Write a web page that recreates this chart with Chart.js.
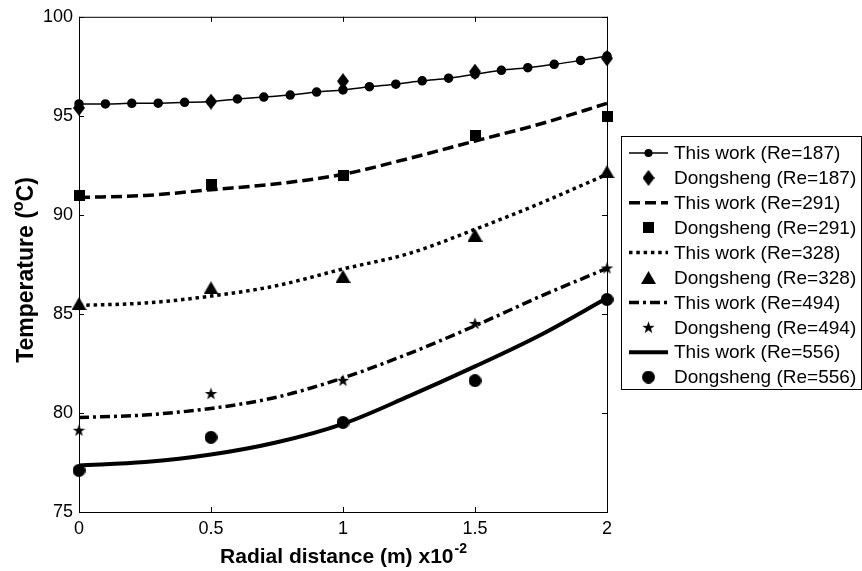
<!DOCTYPE html>
<html>
<head>
<meta charset="utf-8">
<script src="https://cdn.jsdelivr.net/npm/chart.js@4.4.1/dist/chart.umd.min.js"></script>
<style>
  html, body { margin: 0; padding: 0; background: #fff; }
  #wrap { width: 862px; height: 571px; }
</style>
</head>
<body>
<div id="wrap"><canvas id="tempChart"></canvas></div>
<script>
// radial positions (m x10^-2)
const xFine = [0, 0.1, 0.2, 0.3, 0.4, 0.5, 0.6, 0.7, 0.8, 0.9, 1.0, 1.1, 1.2, 1.3, 1.4, 1.5, 1.6, 1.7, 1.8, 1.9, 2.0];
const xModel = [0, 0.25, 0.5, 0.75, 1.0, 1.25, 1.5, 1.75, 2.0];
const xExp = [0, 0.5, 1.0, 1.5, 2.0];

// temperatures (°C)
const work187 = [95.6, 95.6, 95.63, 95.64, 95.68, 95.73, 95.85, 95.95, 96.05, 96.2, 96.31, 96.47, 96.6, 96.77, 96.9, 97.1, 97.3, 97.43, 97.6, 97.8, 98.02];
const dong187 = [95.4, 95.72, 96.75, 97.23, 97.9];
const work291 = [90.88, 90.98, 91.27, 91.57, 92.05, 92.85, 93.73, 94.6, 95.63];
const dong291 = [90.98, 91.52, 92.0, 94.02, 94.98];
const work328 = [85.43, 85.55, 85.9, 86.43, 87.27, 88.05, 89.27, 90.6, 92.05];
const dong328 = [85.52, 86.32, 86.9, 88.98, 92.18];
const work494 = [79.77, 79.9, 80.23, 80.8, 81.77, 83.0, 84.4, 85.9, 87.3];
const dong494 = [79.13, 80.98, 81.65, 84.52, 87.32];
const work556 = [77.35, 77.52, 77.9, 78.52, 79.45, 80.85, 82.35, 83.95, 85.8];
const dong556 = [77.1, 78.77, 79.52, 81.63, 85.73];

const yTicks = [75, 80, 85, 90, 95, 100];
const xTicks = [0, 0.5, 1, 1.5, 2];

const FONT = "'Liberation Sans', Arial, sans-serif";

function pts(xs, ys) {
  return xs.map((x, i) => ({ x: x, y: ys[i] }));
}

// filled black marker drawn on a small canvas
function marker(kind, w, h) {
  const c = document.createElement('canvas');
  c.width = w; c.height = h;
  const g = c.getContext('2d');
  g.fillStyle = '#000';
  g.beginPath();
  if (kind === 'diamond') {
    g.moveTo(w / 2, 0); g.lineTo(w, h / 2); g.lineTo(w / 2, h); g.lineTo(0, h / 2);
  } else if (kind === 'square') {
    g.rect(0, 0, w, h);
  } else if (kind === 'triangle') {
    g.moveTo(w / 2, 0); g.lineTo(w, h); g.lineTo(0, h);
  } else if (kind === 'star') {
    const cx = w / 2, cy = h / 2 + 0.5, ro = w / 2, ri = w / 2 * 0.4;
    for (let k = 0; k < 10; k++) {
      const r = k % 2 ? ri : ro;
      const a = -Math.PI / 2 + k * Math.PI / 5;
      g.lineTo(cx + r * Math.cos(a), cy + r * Math.sin(a));
    }
  } else {
    g.arc(w / 2, h / 2, w / 2, 0, Math.PI * 2);
  }
  g.closePath();
  g.fill();
  return c;
}

const mDiamond = marker('diamond', 12, 16);
const mSquare = marker('square', 11, 11);
const mTriangle = marker('triangle', 15, 13);
const mStar = marker('star', 13, 13);
const mCircle = marker('circle', 13, 13);

function modelLine(label, data, width, dash) {
  return {
    label: label, data: data, showLine: true,
    borderColor: '#000', borderWidth: width, borderDash: dash,
    pointRadius: 0, tension: 0.4, cubicInterpolationMode: 'monotone', clip: false
  };
}

function expPoints(label, data, style) {
  return {
    label: label, data: data, showLine: false,
    pointStyle: style, pointRadius: 6, borderColor: '#000', backgroundColor: '#000', clip: false
  };
}

const datasets = [
  {
    label: 'This work (Re=187)', data: pts(xFine, work187), showLine: true,
    borderColor: '#000', borderWidth: 1.5, borderDash: [],
    pointStyle: 'circle', pointRadius: 4, pointBackgroundColor: '#000', pointBorderColor: '#000',
    tension: 0.3, clip: false
  },
  expPoints('Dongsheng (Re=187)', pts(xExp, dong187), mDiamond),
  modelLine('This work (Re=291)', pts(xModel, work291), 3.5, [11, 5]),
  expPoints('Dongsheng (Re=291)', pts(xExp, dong291), mSquare),
  modelLine('This work (Re=328)', pts(xModel, work328), 3.5, [3.5, 3.8]),
  expPoints('Dongsheng (Re=328)', pts(xExp, dong328), mTriangle),
  modelLine('This work (Re=494)', pts(xModel, work494), 3.5, [10, 4, 3, 4]),
  expPoints('Dongsheng (Re=494)', pts(xExp, dong494), mStar),
  modelLine('This work (Re=556)', pts(xModel, work556), 4, []),
  expPoints('Dongsheng (Re=556)', pts(xExp, dong556), mCircle)
];

// box round the axes, inward ticks on every side, axis titles and legend
const decorations = {
  id: 'decorations',
  afterDraw(chart) {
    const ctx = chart.ctx;
    const a = chart.chartArea;
    const xs = chart.scales.x, ys = chart.scales.y;
    ctx.save();
    ctx.strokeStyle = '#000';
    ctx.lineWidth = 1;
    ctx.setLineDash([]);
    ctx.strokeRect(a.left + 0.5, a.top + 0.5, a.right - a.left, a.bottom - a.top);

    const tl = 5;
    ctx.beginPath();
    xTicks.forEach(v => {
      const px = Math.round(xs.getPixelForValue(v)) + 0.5;
      ctx.moveTo(px, a.bottom); ctx.lineTo(px, a.bottom - tl);
      ctx.moveTo(px, a.top); ctx.lineTo(px, a.top + tl);
    });
    yTicks.forEach(v => {
      const py = Math.round(ys.getPixelForValue(v)) + 0.5;
      ctx.moveTo(a.left, py); ctx.lineTo(a.left + tl, py);
      ctx.moveTo(a.right, py); ctx.lineTo(a.right - tl, py);
    });
    ctx.stroke();

    // x axis title with superscript exponent
    ctx.fillStyle = '#000';
    ctx.textBaseline = 'alphabetic';
    ctx.textAlign = 'left';
    const main = 'Radial distance (m) x10';
    ctx.font = 'bold 14px ' + FONT;
    const supW = ctx.measureText('-2').width;
    ctx.font = 'bold 21px ' + FONT;
    const mainW = ctx.measureText(main).width;
    const cx = (a.left + a.right) / 2;
    const sx = cx - (mainW + supW) / 2;
    ctx.fillText(main, sx, 563);
    ctx.font = 'bold 14px ' + FONT;
    ctx.fillText('-2', sx + mainW + 1, 553);

    // y axis title, rotated, with superscript degree sign
    ctx.save();
    ctx.translate(33, 270);
    ctx.rotate(-Math.PI / 2);
    ctx.font = 'bold 23px ' + FONT;
    const p1 = 'Temperature (', p3 = 'C)';
    const w1 = ctx.measureText(p1).width, w3 = ctx.measureText(p3).width;
    ctx.font = 'bold 16px ' + FONT;
    const w2 = ctx.measureText('o').width;
    const tx = -(w1 + w2 + w3) / 2;
    ctx.font = 'bold 23px ' + FONT;
    ctx.fillText(p1, tx, 0);
    ctx.font = 'bold 16px ' + FONT;
    ctx.fillText('o', tx + w1, -10);
    ctx.font = 'bold 23px ' + FONT;
    ctx.fillText(p3, tx + w1 + w2, 0);
    ctx.restore();

    // legend
    const bx = 621, by = 136, bw = 240, bh = 253;
    ctx.fillStyle = '#fff';
    ctx.fillRect(bx, by, bw, bh);
    ctx.strokeStyle = '#000';
    ctx.lineWidth = 1;
    ctx.strokeRect(bx + 0.5, by + 0.5, bw, bh);
    ctx.font = '19px ' + FONT;
    ctx.textBaseline = 'middle';
    chart.data.datasets.forEach((ds, i) => {
      const ry = 153 + i * 24.9;
      if (ds.showLine) {
        ctx.beginPath();
        ctx.lineWidth = ds.borderWidth;
        ctx.setLineDash(ds.borderDash);
        ctx.moveTo(629, ry); ctx.lineTo(668, ry);
        ctx.stroke();
        ctx.setLineDash([]);
        if (ds.pointRadius > 0) {
          ctx.fillStyle = '#000';
          ctx.beginPath();
          ctx.arc(648.5, ry, ds.pointRadius, 0, Math.PI * 2);
          ctx.fill();
        }
      } else {
        const img = ds.pointStyle;
        ctx.drawImage(img, 648.5 - img.width / 2, ry - img.height / 2);
      }
      ctx.fillStyle = '#000';
      ctx.fillText(ds.label, 674, ry + 1);
    });
    ctx.restore();
  }
};

new Chart(document.getElementById('tempChart'), {
  type: 'scatter',
  data: { datasets: datasets },
  plugins: [decorations],
  options: {
    responsive: true,
    maintainAspectRatio: false,
    animation: false,
    layout: { padding: { top: 12, right: 255, left: 0, bottom: 0 } },
    plugins: {
      legend: { display: false },
      tooltip: { enabled: false }
    },
    scales: {
      x: {
        type: 'linear', min: 0, max: 2,
        afterFit(scale) { scale.height = 59; },
        afterBuildTicks(scale) { scale.ticks = xTicks.map(v => ({ value: v })); },
        grid: { display: false, drawTicks: false },
        border: { display: false },
        ticks: {
          color: '#000', padding: 6, font: { family: FONT, size: 18 },
          callback: v => String(v)
        }
      },
      y: {
        type: 'linear', min: 75, max: 100,
        afterFit(scale) { scale.width = 79; },
        afterBuildTicks(scale) { scale.ticks = yTicks.map(v => ({ value: v })); },
        grid: { display: false, drawTicks: false },
        border: { display: false },
        ticks: { color: '#000', padding: 6, font: { family: FONT, size: 18 } }
      }
    }
  }
});
</script>
</body>
</html>
